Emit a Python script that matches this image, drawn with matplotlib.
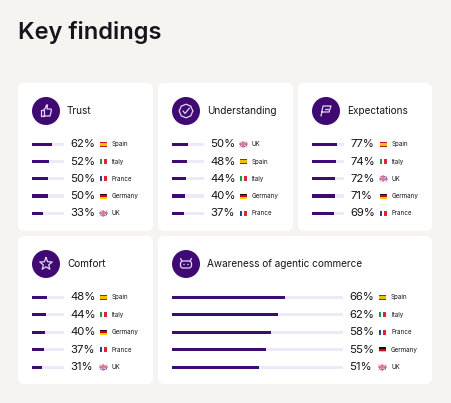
import matplotlib
matplotlib.use("Agg")
import matplotlib.pyplot as plt
from matplotlib.patches import FancyBboxPatch, Circle, Rectangle
from matplotlib.transforms import blended_transform_factory
import numpy as np

plt.rcParams["font.family"] = ["Inter", "DejaVu Sans"]

# ---- data ----
trust_countries = ["Spain", "Italy", "France", "Germany", "UK"]
trust_values = [62, 52, 50, 50, 33]

understanding_countries = ["UK", "Spain", "Italy", "Germany", "France"]
understanding_values = [50, 48, 44, 40, 37]

expectations_countries = ["Spain", "Italy", "UK", "Germany", "France"]
expectations_values = [77, 74, 72, 71, 69]

comfort_countries = ["Spain", "Italy", "Germany", "France", "UK"]
comfort_values = [48, 44, 40, 37, 31]

awareness_countries = ["Spain", "Italy", "France", "Germany", "UK"]
awareness_values = [66, 62, 58, 55, 51]

W, H = 451, 403
BG = "#f6f3f0"
PURPLE = "#3f0b73"
TRACK = "#ece9f8"
TEXT = "#17141c"
ICON = "#e2d6f5"

fig = plt.figure(figsize=(W / 100, H / 100), dpi=100)
fig.patch.set_facecolor(BG)
ax = fig.add_axes([0, 0, 1, 1])
ax.set_xlim(0, W)
ax.set_ylim(H, 0)
ax.axis("off")


def fig_box(x0, y0, x1, y1):
    return [x0 / W, 1 - y1 / H, (x1 - x0) / W, (y1 - y0) / H]


def draw_flag(cx, cy, country):
    w, h = 6.5, 5
    x0, y0 = cx, cy - h / 2
    if country == "Spain":
        ax.add_patch(Rectangle((x0, y0), w, h, color="#c8102e", lw=0))
        ax.add_patch(Rectangle((x0, y0 + h * 0.25), w, h * 0.5, color="#f1bf00", lw=0))
    elif country == "Italy":
        for i, c in enumerate(["#1c9a48", "#ffffff", "#d7263d"]):
            ax.add_patch(Rectangle((x0 + i * w / 3, y0), w / 3, h, color=c, lw=0))
    elif country == "France":
        for i, c in enumerate(["#27409a", "#ffffff", "#e1242e"]):
            ax.add_patch(Rectangle((x0 + i * w / 3, y0), w / 3, h, color=c, lw=0))
    elif country == "Germany":
        for i, c in enumerate(["#111111", "#dd0000", "#ffce00"]):
            ax.add_patch(Rectangle((x0, y0 + i * h / 3), w, h / 3, color=c, lw=0))
    else:
        ax.add_patch(Rectangle((x0, y0), w, h, color="#4a56a6", lw=0))
        ax.plot([x0, x0 + w], [y0, y0 + h], color="#f0c8d8", lw=1.0)
        ax.plot([x0, x0 + w], [y0 + h, y0], color="#f0c8d8", lw=1.0)
        ax.plot([x0 + w / 2, x0 + w / 2], [y0, y0 + h], color="#e07a9a", lw=1.2)
        ax.plot([x0, x0 + w], [y0 + h / 2, y0 + h / 2], color="#e07a9a", lw=1.2)


def draw_icon(kind, cx, cy):
    ax.add_patch(Circle((cx, cy), 14, color=PURPLE, lw=0))
    kw = dict(color=ICON, lw=0.9, solid_capstyle="round", solid_joinstyle="round")
    if kind == "thumb":
        ax.plot([cx - 5, cx - 5, cx - 2.5, cx - 2.5, cx - 5], [cy + 5, cy - 1, cy - 1, cy + 5, cy + 5], **kw)
        ax.plot([cx - 2.5, cx - 0.5, cx + 0.5, cx + 1.5, cx + 1, cx + 5, cx + 5.5, cx + 4, cx - 2.5],
                [cy - 1, cy - 3, cy - 6, cy - 6, cy - 2, cy - 2, cy - 1, cy + 5, cy + 5], **kw)
    elif kind == "check":
        t = np.linspace(0, 2 * np.pi, 9)
        r = 6 + 0.8 * np.cos(8 * t)
        ax.plot(cx + r * np.cos(t), cy + r * np.sin(t), **kw)
        ax.plot([cx - 3, cx - 1, cx + 3.5], [cy, cy + 2.5, cy - 3], **kw)
    elif kind == "flag":
        ax.plot([cx - 5, cx - 3, cx + 5, cx + 3, cx - 4], [cy + 5, cy - 5, cy - 5, cy + 1, cy + 1], **kw)
        ax.plot([cx - 1, cx + 1.5], [cy - 2, cy - 2], **kw)
    elif kind == "star":
        ang = np.pi / 2 + np.arange(11) * np.pi / 5
        rad = np.where(np.arange(11) % 2 == 0, 6.5, 2.8)
        ax.plot(cx + rad * np.cos(ang), cy - rad * np.sin(ang), **kw)
    elif kind == "robot":
        ax.add_patch(FancyBboxPatch((cx - 5.5, cy - 3), 11, 7, boxstyle="round,pad=0,rounding_size=2.5",
                                    fill=False, ec=ICON, lw=0.9))
        ax.plot([cx - 4, cx - 5.5], [cy - 3, cy - 5.5], **kw)
        ax.plot([cx + 4, cx + 5.5], [cy - 3, cy - 5.5], **kw)
        ax.add_patch(Circle((cx - 2, cy + 0.5), 0.7, color=ICON, lw=0))
        ax.add_patch(Circle((cx + 2, cy + 0.5), 0.7, color=ICON, lw=0))


def draw_card(x0, y0, x1, y1, title, icon, countries, values, track_x1, row0, step):
    ax.add_patch(FancyBboxPatch((x0, y0), x1 - x0, y1 - y0,
                                boxstyle="round,pad=0,rounding_size=6",
                                fc="white", ec="none"))
    draw_icon(icon, x0 + 28, y0 + 28)
    ax.text(x0 + 49, y0 + 28, title, fontsize=7.2, color=TEXT, va="center", ha="left")

    tx0 = x0 + 14
    n = len(values)
    bax = fig.add_axes(fig_box(tx0, row0 - step / 2, track_x1, row0 + (n - 0.5) * step))
    bax.set_xlim(0, 100)
    bax.set_ylim(n - 0.5, -0.5)
    bax.axis("off")
    ypos = np.arange(n)
    bax.barh(ypos, [100] * n, height=3.2 / step, color=TRACK, lw=0)
    bax.barh(ypos, values, height=3.2 / step, color=PURPLE, lw=0)

    trans = blended_transform_factory(ax.transData, bax.transData)
    for i, (c, v) in enumerate(zip(countries, values)):
        bax.text(track_x1 + 6, i, f"{v}%", transform=trans, fontsize=8.2,
                 color=TEXT, va="center", ha="left", clip_on=False)
        ry = row0 + i * step
        draw_flag(track_x1 + 36, ry, c)
        ax.text(track_x1 + 48, ry, c, fontsize=4.5, color=TEXT, va="center", ha="left")


ax.text(18.5, 33, "Key findings", fontsize=17, fontweight="semibold", color=TEXT, va="center", ha="left")

top_row0, top_step = 144.3, 17.25
bot_row0, bot_step = 297.3, 17.5

draw_card(18, 83, 153, 231, "Trust", "thumb", trust_countries, trust_values, 64, top_row0, top_step)
draw_card(158, 83, 293, 231, "Understanding", "check", understanding_countries, understanding_values,
          204, top_row0, top_step)
draw_card(298, 83, 432, 231, "Expectations", "flag", expectations_countries, expectations_values,
          344, top_row0, top_step)
draw_card(18, 236, 153, 384, "Comfort", "star", comfort_countries, comfort_values, 64, bot_row0, bot_step)
draw_card(158, 236, 432, 384, "Awareness of agentic commerce", "robot", awareness_countries,
          awareness_values, 343, bot_row0, bot_step)

fig.savefig("out.png", dpi=100, facecolor=BG)
